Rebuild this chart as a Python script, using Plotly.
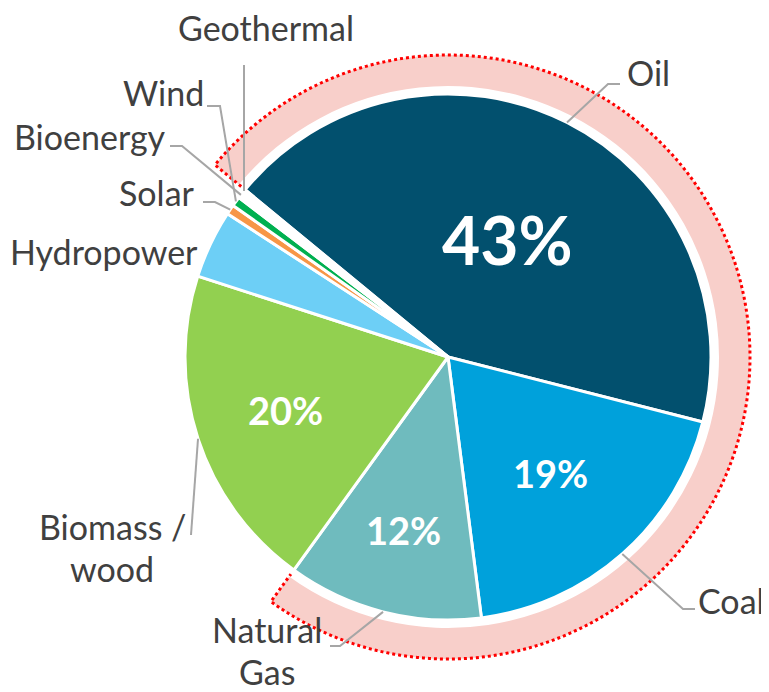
import numpy as np
import plotly.graph_objects as go

# ---------------- data ----------------
sources = ["Oil", "Coal", "Natural Gas", "Biomass / wood", "Hydropower",
           "Solar", "Wind", "Bioenergy", "Geothermal"]
shares = [43, 19, 12, 20, 4.2, 0.6, 0.6, 0.4, 0.2]
fossil_sources = ["Oil", "Coal", "Natural Gas"]
pct_labels_shown = ["Oil", "Coal", "Natural Gas", "Biomass / wood"]
display_names = ["Oil", "Coal", "Natural<br>Gas", "Biomass /<br>wood", "Hydropower",
                 "Solar", "Wind", "Bioenergy", "Geothermal"]

# ---------------- style / layout ----------------
colors = ["#02506E", "#00A1DB", "#6FBBBE", "#92D050", "#6DCFF6",
          "#F79646", "#00B050", "#FFFFFF", "#FFFFFF"]
PAGE_W, PAGE_H = 769, 692
OFF = 8                     # default page margin around the plot div
W, H = PAGE_W - OFF, PAGE_H - OFF
CX, CY = 448, 357          # pie centre in page pixels
R = 263                    # pie radius
RING_IN, RING_OUT = 271, 302
POLAR_R = 306
ROT = -50.5
FONT = "Lato"
TXT = "#404040"
LEAD = "#A6A6A6"
LABEL_SIZE = 34
LINE_GAP = 42

label_pos = {
    "Oil": (648, 72), "Coal": (731, 600), "Natural Gas": (267, 650),
    "Biomass / wood": (112, 547), "Hydropower": (104, 252), "Solar": (157, 192),
    "Wind": (163, 93), "Bioenergy": (90, 136), "Geothermal": (266, 27),
}
leader_pts = {
    "Oil": [(608, 84), (620, 84)],
    "Coal": [(683, 609), (695, 609)],
    "Natural Gas": [(340, 646), (330, 646)],
    "Biomass / wood": [(191, 535)],
    "Solar": [(215, 202), (203, 202)],
    "Wind": [(220, 106), (207, 106)],
    "Bioenergy": [(182, 146), (170, 146)],
    "Geothermal": [(None, 65)],
}
pct_radius = {"Oil": 0.50, "Coal": 0.59, "Natural Gas": 0.68, "Biomass / wood": 0.65}
pct_size = {"Oil": 66, "Coal": 38, "Natural Gas": 38, "Biomass / wood": 38}


def px(x):
    return (x - OFF) / W


def py(y):
    return 1 - (y - OFF) / H


total = float(sum(shares))
starts = []
acc = 0.0
for s in shares:
    starts.append(ROT + 360 * acc / total)
    acc += s
mids = [a + 180 * s / total for a, s in zip(starts, shares)]


def polar_to_px(r, ang):
    a = np.deg2rad(ang)
    return CX + r * np.sin(a), CY - r * np.cos(a)


fig = go.Figure()

# ---- outer fossil ring (polar) ----
fossil_share = sum(s for n, s in zip(sources, shares) if n in fossil_sources)
f0 = ROT
f1 = ROT + 360 * fossil_share / total
fig.add_trace(go.Barpolar(
    r=[RING_OUT - RING_IN], base=[RING_IN], theta=[(f0 + f1) / 2], width=[f1 - f0],
    marker=dict(color="#F8CFCA", line=dict(width=0)), hoverinfo="skip", showlegend=False,
))
arc = np.linspace(f0, f1, 240)
theta_outline = np.concatenate([[f0], arc, [f1]])
r_outline = np.concatenate([[RING_IN - 3], np.full(arc.size, RING_OUT), [RING_IN - 3]])
fig.add_trace(go.Scatterpolar(
    r=r_outline, theta=theta_outline, mode="lines",
    line=dict(color="#FF0000", width=3, dash="dot"), hoverinfo="skip", showlegend=False,
))

# ---- main pie ----
fig.add_trace(go.Pie(
    labels=sources, values=shares, sort=False, direction="clockwise", rotation=ROT,
    marker=dict(colors=colors, line=dict(color="white", width=3)),
    textinfo="none", hoverinfo="label+percent", showlegend=False,
    domain=dict(x=[px(CX - R), px(CX + R)], y=[py(CY + R), py(CY - R)]),
))

annotations = []
shapes = []
for name, disp, mid, s in zip(sources, display_names, mids, shares):
    lx, ly = label_pos[name]
    lines = disp.split("<br>")
    n = len(lines)
    for i, line_txt in enumerate(lines):
        yy = ly + (i - (n - 1) / 2) * LINE_GAP
        annotations.append(dict(
            x=px(lx), y=py(yy), xref="paper", yref="paper", text=line_txt, showarrow=False,
            xanchor="center", yanchor="middle", borderpad=0,
            font=dict(family=FONT, size=LABEL_SIZE, color=TXT),
        ))
    if name in leader_pts:
        ex, ey = polar_to_px(R, mid)
        pts = [(ex, ey)] + [(ex if x is None else x, y) for x, y in leader_pts[name]]
        path = "M " + " L ".join(f"{px(x):.5f},{py(y):.5f}" for x, y in pts)
        shapes.append(dict(type="path", path=path, xref="paper", yref="paper",
                           line=dict(color=LEAD, width=2), layer="above"))
    if name in pct_labels_shown:
        tx, ty = polar_to_px(R * pct_radius[name], mid)
        annotations.append(dict(
            x=px(tx), y=py(ty), xref="paper", yref="paper", text=f"{100 * s / total:.0f}%",
            showarrow=False, xanchor="center", yanchor="middle",
            font=dict(family=FONT, size=pct_size[name], color="white", weight="bold"),
        ))

fig.update_layout(
    width=W, height=H, margin=dict(l=0, r=0, t=0, b=0),
    paper_bgcolor="white", plot_bgcolor="white",
    polar=dict(
        domain=dict(x=[px(CX - POLAR_R), px(CX + POLAR_R)], y=[py(CY + POLAR_R), py(CY - POLAR_R)]),
        bgcolor="rgba(0,0,0,0)",
        radialaxis=dict(range=[0, POLAR_R], visible=False, showgrid=False),
        angularaxis=dict(rotation=90, direction="clockwise", visible=False, showgrid=False),
    ),
    annotations=annotations, shapes=shapes,
)

fig.write_html("out.html")
